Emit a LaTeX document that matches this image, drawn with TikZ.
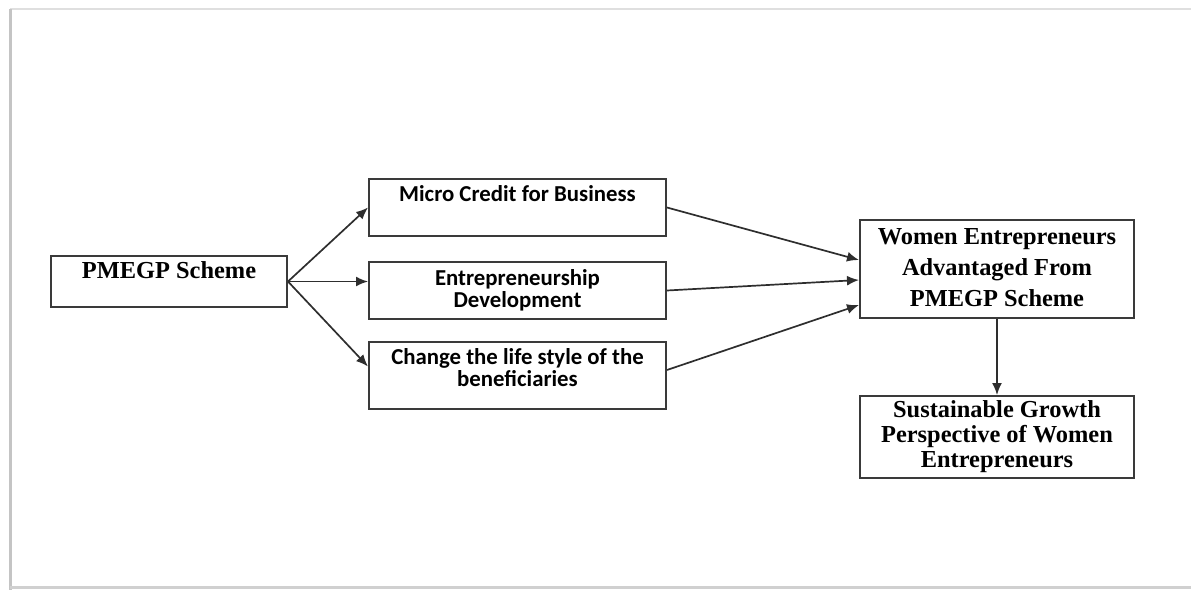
\documentclass[tikz,border=0pt]{standalone}
\usepackage{fontspec}
\setmainfont{Liberation Serif}
\newfontfamily\calibri{Carlito}
\usetikzlibrary{arrows.meta, positioning, calc}
\definecolor{borde}{HTML}{3A3A3A}
\definecolor{linea}{HTML}{2E2E2E}
\definecolor{marco}{HTML}{C4C4C4}
\newcommand{\recuadro}[4]{\begin{minipage}[c][#2][t]{#1}\centering\rule{0pt}{#3}#4\end{minipage}}
\tikzstyle{bloque} = [draw=borde, line width=1pt, rectangle, inner sep=0pt]
\tikzstyle{flecha} = [draw=linea, line width=0.85pt, -{Latex[length=6pt,width=5pt]}]
\tikzstyle{romana} = [font=\fontsize{12.2}{12.5}\selectfont\bfseries]
\tikzstyle{sans} = [font=\calibri\fontsize{11.4}{11}\selectfont\bfseries]

\begin{document}
\begin{tikzpicture}[x=0.5pt, y=-0.5pt]
	\useasboundingbox (0,0) rectangle (1191,590);
	% marco de la figura
	\draw[marco!55, line width=1pt] (10,9) -- (1191,9);
	\draw[marco, line width=1.5pt] (10,9) -- (10,590);
	\draw[marco!80, line width=1.2pt] (10,587.5) -- (1191,587.5);
	% bloques
	\node [bloque, romana] (scheme) at (169,281.5) {\recuadro{118pt}{25.5pt}{11pt}{PMEGP Scheme}};
	\node [bloque, sans] (credit) at (517.5,207.5) {\recuadro{148.5pt}{28.5pt}{11pt}{Micro Credit for Business}};
	\node [bloque, sans] (edp) at (517.5,290.5) {\recuadro{148.5pt}{28.5pt}{11.5pt}{Entrepreneurship\\Development}};
	\node [bloque, sans] (life) at (517.5,375.5) {\recuadro{148.5pt}{33.5pt}{11pt}{Change the life style of the\\beneficiaries}};
	\node [bloque, romana, font=\fontsize{12.2}{15.7}\selectfont\bfseries] (women) at (997,269) {\recuadro{137pt}{49pt}{12pt}{Women Entrepreneurs\\Advantaged From\\PMEGP Scheme}};
	\node [bloque, romana] (growth) at (997,437) {\recuadro{137pt}{41pt}{10.5pt}{Sustainable Growth\\Perspective of Women\\Entrepreneurs}};
	% flechas
	\draw[flecha] (scheme.east) -- (credit.west);
	\draw[flecha] (scheme.east) -- (scheme.east -| edp.west);
	\draw[flecha] (scheme.east) -- ($(life.north west)!0.37!(life.south west)$);
	\draw[flecha] (credit.east) -- ($(women.north west)!0.41!(women.south west)$);
	\draw[flecha] (edp.east) -- ($(women.north west)!0.61!(women.south west)$);
	\draw[flecha] ($(life.north east)!0.42!(life.south east)$) -- ($(women.north west)!0.86!(women.south west)$);
	\draw[flecha] (women) -- (growth);
\end{tikzpicture}
\end{document}
